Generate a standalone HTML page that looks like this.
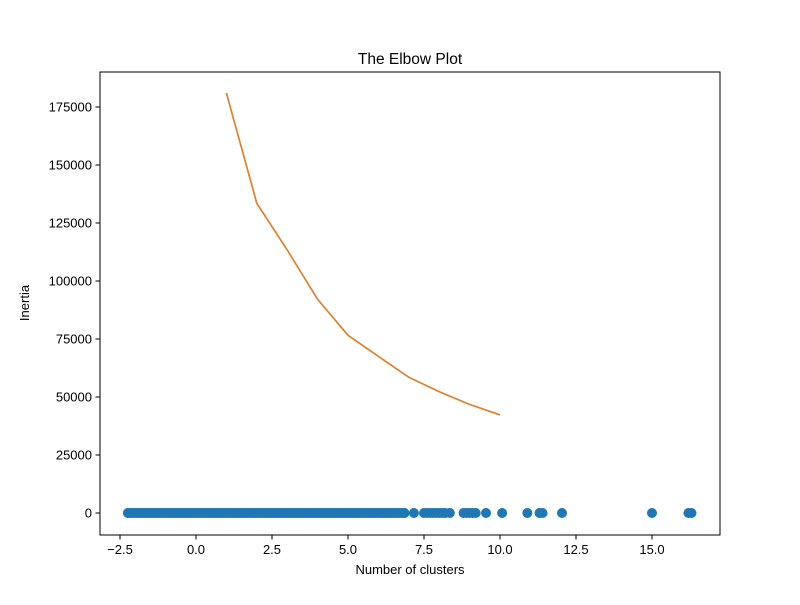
<!DOCTYPE html>
<html><head><meta charset="utf-8"><style>
body{margin:0;background:#fff;}
svg text{font-family:"Liberation Sans","DejaVu Sans",sans-serif;font-size:13px;fill:#000;}
</style></head><body>
<svg id="chart" width="800" height="600">
<rect width="800" height="600" fill="#fff"/>
<text x="410" y="64" text-anchor="middle" style="font-size:15.5px">The Elbow Plot</text>
<text x="410" y="574" text-anchor="middle">Number of clusters</text>
<text transform="translate(29,303) rotate(-90)" text-anchor="middle">Inertia</text>
<g id="marks"></g>
<rect x="100" y="72" width="620" height="463" fill="none" stroke="#000" stroke-width="1"/>
</svg>
<script>
const xTicks=[-2.5,0,2.5,5,7.5,10,12.5,15];
const xTickLabels=["−2.5","0.0","2.5","5.0","7.5","10.0","12.5","15.0"];
const yTicks=[0,25000,50000,75000,100000,125000,150000,175000];
const yTickLabels=["0","25000","50000","75000","100000","125000","150000","175000"];
const clusters=[1,2,3,4,5,6,7,8,9,10];
const inertia=[181000,133500,113400,92100,76600,67500,58500,52300,46800,42300];
const scatterX=[-2.24,-2.17,-2.1,-2.03,-1.96,-1.89,-1.82,-1.75,-1.68,-1.61,-1.54,-1.47,-1.4,-1.33,-1.26,-1.19,-1.12,-1.05,-0.98,-0.91,-0.84,-0.77,-0.7,-0.63,-0.56,-0.49,-0.42,-0.35,-0.28,-0.21,-0.14,-0.07,0,0.07,0.14,0.21,0.28,0.35,0.42,0.49,0.56,0.63,0.7,0.77,0.84,0.91,0.98,1.05,1.12,1.19,1.26,1.33,1.4,1.47,1.54,1.61,1.68,1.75,1.82,1.89,1.96,2.03,2.1,2.17,2.24,2.31,2.38,2.45,2.52,2.59,2.66,2.73,2.8,2.87,2.94,3.01,3.08,3.15,3.22,3.29,3.36,3.43,3.5,3.57,3.64,3.71,3.78,3.85,3.92,3.99,4.06,4.13,4.2,4.27,4.34,4.41,4.48,4.55,4.62,4.69,4.76,4.83,4.9,4.97,5.04,5.11,5.18,5.25,5.32,5.39,5.46,5.53,5.6,5.67,5.74,5.81,5.88,5.95,6.02,6.09,6.16,6.23,6.3,6.37,6.44,6.51,6.58,6.65,6.72,6.79,6.86,7.17,7.5,7.6,7.7,7.8,7.9,8.0,8.1,8.2,8.35,8.8,8.9,9.0,9.1,9.2,9.54,10.07,10.9,11.3,11.4,12.04,15.0,16.2,16.3];
const scatterY=scatterX.map(()=>0);
const X=v=>196+(v-0)*30.4;
const Y=v=>513-v*0.00232;
const NS="http://www.w3.org/2000/svg";
const svg=document.getElementById('chart'), g=document.getElementById('marks');
function mk(t,a){const e=document.createElementNS(NS,t);for(const k in a)e.setAttribute(k,a[k]);return e;}
xTicks.forEach((t,i)=>{
 const l=mk('line',{x1:X(t),x2:X(t),y1:535,y2:539.5,stroke:'#000'});
 
 
 svg.appendChild(l);
 const tx=mk('text',{x:X(t),y:554,'text-anchor':'middle'});tx.textContent=xTickLabels[i];
 
 
 svg.appendChild(tx);
});
yTicks.forEach((t,i)=>{
 const l=mk('line',{x1:95.5,x2:100,y1:Y(t),y2:Y(t),stroke:'#000'});
 
 
 svg.appendChild(l);
 const tx=mk('text',{x:92,y:Y(t)+4.5,'text-anchor':'end'});tx.textContent=yTickLabels[i];
 
 
 svg.appendChild(tx);
});
const pts=clusters.map((c,i)=>X(c)+','+Y(inertia[i])).join(' ');
const pl1=mk('polyline',{points:pts,fill:'none',stroke:'#1f77b4','stroke-width':1.5});


g.appendChild(pl1);
const pl2=mk('polyline',{points:pts,fill:'none',stroke:'#f08020','stroke-width':1.5});


g.appendChild(pl2);
scatterX.forEach((v,i)=>{
 const c=mk('circle',{cx:X(v),cy:Y(scatterY[i]),r:5,fill:'#1f77b4'});
 
 
 g.appendChild(c);
});
</script>
</body></html>
